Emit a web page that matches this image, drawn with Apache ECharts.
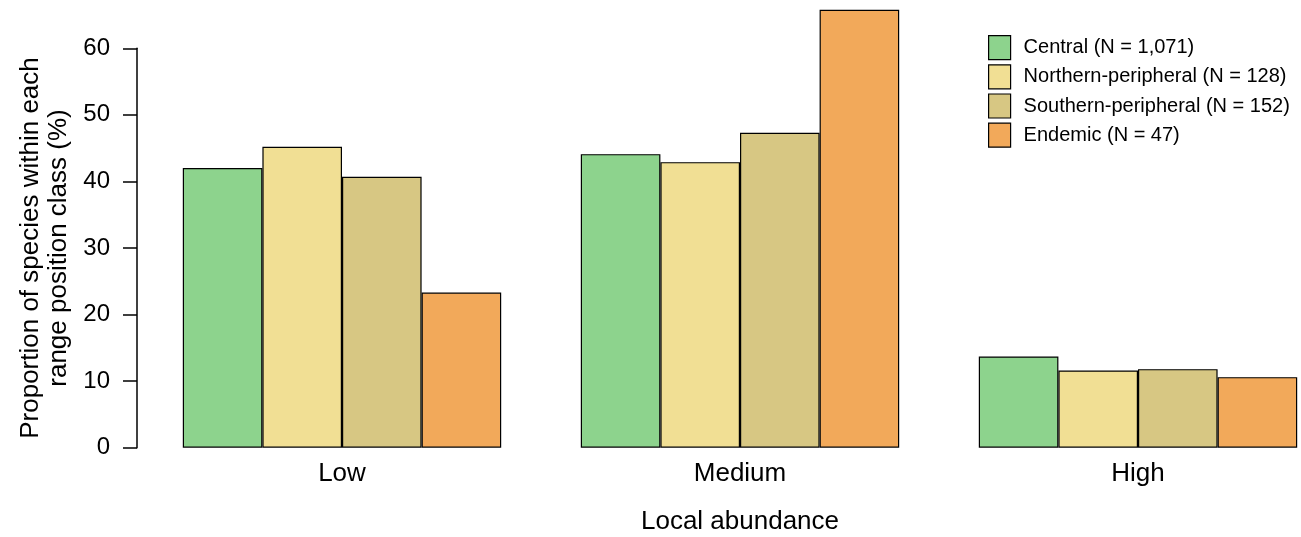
<!DOCTYPE html>
<html>
<head>
<meta charset="utf-8">
<script src="https://cdn.jsdelivr.net/npm/echarts@6/dist/echarts.min.js"></script>
<style>
  html, body { margin: 0; padding: 0; background: #fff; }
  #chart { width: 1301px; height: 537px; }
</style>
</head>
<body>
<div id="chart"></div>
<script>
// Local abundance classes and share of species per range position class (%)
const categories = ['Low', 'Medium', 'High'];
const seriesNames = [
  'Central (N = 1,071)',
  'Northern-peripheral (N = 128)',
  'Southern-peripheral (N = 152)',
  'Endemic (N = 47)'
];
const central    = [42.0, 44.1, 13.7];
const northern   = [45.2, 42.9, 11.6];
const southern   = [40.7, 47.3, 11.8];
const endemic    = [23.3, 65.8, 10.6];
const yTicks = [0, 10, 20, 30, 40, 50, 60];

const colors = ['#8dd38d', '#f1df94', '#d7c783', '#f2a95a'];
const values = [central, northern, southern, endemic];
const font = "'Liberation Sans', Arial, Helvetica, sans-serif";

const chart = echarts.init(document.getElementById('chart'), null, { renderer: 'canvas' });

chart.setOption({
  animation: false,
  backgroundColor: '#ffffff',
  textStyle: { fontFamily: font, color: '#000' },
  legend: {
    data: seriesNames,
    orient: 'vertical',
    left: 988,
    top: 35,
    padding: 0,
    itemWidth: 22,
    itemHeight: 24,
    itemGap: 4,
    icon: 'rect',
    textStyle: { fontFamily: font, fontSize: 20, color: '#000', padding: [0, 0, 0, 8] },
    itemStyle: { borderColor: '#000', borderWidth: 1.2 },
    selectedMode: false
  },
  // the last group runs to the right edge of the page, so the plot area is wider than the canvas
  grid: {
    left: 143, width: 1194, top: 48.3, bottom: 89.3,
    outerBoundsMode: 'none', containLabel: false
  },
  xAxis: {
    type: 'category',
    data: categories,
    axisLine: { show: false },
    axisTick: { show: false },
    axisLabel: { fontFamily: font, fontSize: 26, color: '#000', margin: 13 },
    name: 'Local abundance',
    nameLocation: 'middle',
    nameGap: 61,
    nameTextStyle: { fontFamily: font, fontSize: 26, color: '#000' }
  },
  yAxis: {
    type: 'value',
    min: yTicks[0],
    max: yTicks[yTicks.length - 1],
    interval: 10,
    offset: 6,
    axisLine: { show: true, lineStyle: { color: '#000', width: 1.5 } },
    axisTick: { show: true, length: 14, lineStyle: { color: '#000', width: 1.5 } },
    axisLabel: { fontFamily: font, fontSize: 24, color: '#000', margin: 27 },
    splitLine: { show: false },
    name: 'Proportion of species within each\nrange position class (%)',
    nameLocation: 'middle',
    nameRotate: 90,
    nameGap: 63,
    nameTextStyle: { fontFamily: font, fontSize: 26, color: '#000', lineHeight: 28 }
  },
  series: values.map((v, i) => ({
    name: seriesNames[i],
    type: 'bar',
    data: v,
    clip: false,
    barGap: '0%',
    barCategoryGap: '20%',
    itemStyle: { color: colors[i], borderColor: '#000', borderWidth: 1.2 }
  }))
});
</script>
</body>
</html>
